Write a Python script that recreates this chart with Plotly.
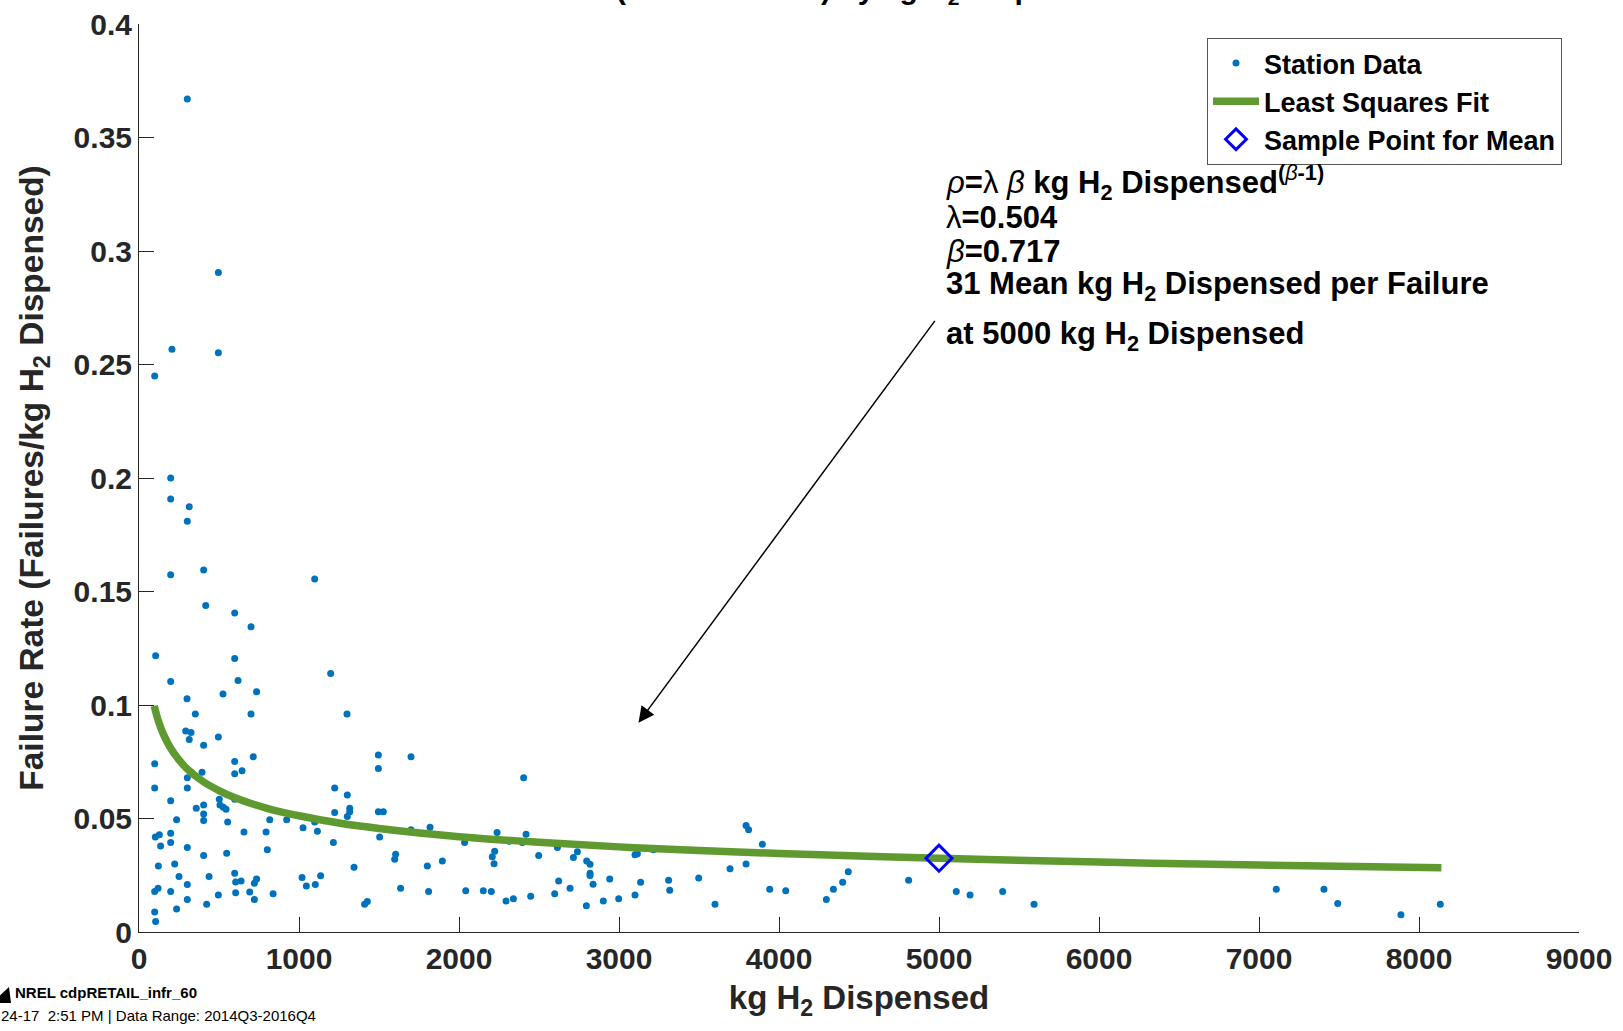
import plotly.graph_objects as go

# ---------------- data ----------------
station_kg = [
    302, 496, 206, 496, 98, 198,
    198, 314, 302, 198, 404, 1098, 417, 598, 700, 104, 598, 1198, 198, 619,
    735, 525, 300, 352, 700, 1300, 292, 325, 314, 496, 404, 98, 598, 714,
    1496, 1700, 1496, 598, 644, 394, 302, 2404, 98, 302, 1223, 1302, 198,
    502, 506, 527, 544, 358, 404, 404, 404, 598, 1317, 1317, 1223, 1302,
    1496, 1527, 235, 554, 817, 923, 1098, 1025, 1115, 656, 794, 102, 127,
    198, 135, 198, 302, 1215, 1504, 1819, 1700, 2035, 2238, 2313, 2419,
    2396, 2223, 2208, 2219, 2498, 2615, 2740, 2715, 2798, 2819, 2819, 2819,
    2838, 2942, 2998, 2902, 2796, 2623, 2694, 2598, 2448, 2340, 2294, 2202,
    2152, 2042, 1896, 1802, 1810, 1635, 1604, 1598, 1427, 1410, 1344, 1135,
    1102, 1046, 1019, 838, 735, 721, 692, 721, 802, 638, 598, 604, 604, 548,
    496, 438, 423, 404, 302, 302, 250, 223, 235, 198, 121, 98, 119, 98, 104,
    3100, 3100, 3115, 3215, 3135, 3310, 3317, 3498, 3600, 3694, 3794, 3810,
    3794, 3896, 3942, 4042, 4296, 4340, 4398, 4433, 4810, 5108, 5194, 5398,
    5594, 7108, 7406, 7492, 7887, 8133,
]
station_rate = [
    0.367, 0.2905, 0.2567, 0.2552, 0.2449, 0.200,
    0.1908, 0.1873, 0.181, 0.1574, 0.1595, 0.1555, 0.1438, 0.1405, 0.1345,
    0.1217, 0.1205, 0.1139, 0.1104, 0.1108, 0.1058, 0.1048, 0.1028, 0.096,
    0.096, 0.096, 0.0885, 0.0879, 0.0848, 0.0859, 0.0823, 0.0741, 0.0751,
    0.0772, 0.078, 0.0772, 0.072, 0.0697, 0.071, 0.0704, 0.068, 0.068,
    0.0634, 0.0634, 0.0634, 0.0603, 0.0578, 0.0585, 0.056, 0.055, 0.0541,
    0.0545, 0.0559, 0.052, 0.0491, 0.0585, 0.0545, 0.053, 0.0526, 0.0509,
    0.053, 0.053, 0.0494, 0.0485, 0.0494, 0.0494, 0.0485, 0.0459, 0.0444,
    0.0441, 0.0441, 0.0419, 0.0428, 0.0435, 0.0379, 0.0394, 0.0372, 0.0394,
    0.0419, 0.0462, 0.045, 0.0394, 0.0438, 0.040, 0.0431, 0.0394, 0.0356,
    0.0331, 0.0301, 0.0337, 0.0372, 0.0353, 0.0328, 0.0313, 0.0298, 0.0259,
    0.0249, 0.021, 0.0234, 0.0147, 0.0137, 0.0116, 0.0225, 0.0193, 0.0168,
    0.0157, 0.0147, 0.0137, 0.0178, 0.0182, 0.0182, 0.0313, 0.0291, 0.0178,
    0.0193, 0.0343, 0.032, 0.0134, 0.0122, 0.0285, 0.0248, 0.0209, 0.0203,
    0.024, 0.0168, 0.0234, 0.0215, 0.0176, 0.0143, 0.0362, 0.0225, 0.0259,
    0.022, 0.0173, 0.0347, 0.0163, 0.0244, 0.0122, 0.0337, 0.0209, 0.0143,
    0.0244, 0.030, 0.0101, 0.0178, 0.0291, 0.0178, 0.0193, 0.0088, 0.0046,
    0.0163, 0.034, 0.0345, 0.0362, 0.0219, 0.0228, 0.0184, 0.0238, 0.0122,
    0.0279, 0.0469, 0.045, 0.030, 0.0387, 0.0188, 0.0182, 0.0143, 0.0188,
    0.0219, 0.0265, 0.0228, 0.0178, 0.0163, 0.0178, 0.0122, 0.0188, 0.0188,
    0.0126, 0.0076, 0.0122,
]

fit_kg = [95, 120, 150, 200, 250, 300, 400, 500, 600, 800, 1000, 1250, 1500,
          2000, 2500, 3000, 3500, 4000, 5000, 6000, 7000, 8140]
fit_rate = [0.0996, 0.0932, 0.0875, 0.0807, 0.0758, 0.0719, 0.0663, 0.0623,
            0.0591, 0.0545, 0.0512, 0.0480, 0.0456, 0.0420, 0.0395, 0.0375,
            0.0359, 0.0346, 0.0325, 0.0308, 0.0295, 0.0283]

sample_kg = [5000]
sample_rate = [0.0325]

x_tick_vals = [0, 1000, 2000, 3000, 4000, 5000, 6000, 7000, 8000, 9000]
x_tick_text = ["0", "1000", "2000", "3000", "4000", "5000", "6000", "7000", "8000", "9000"]
y_tick_vals = [0, 0.05, 0.1, 0.15, 0.2, 0.25, 0.3, 0.35, 0.4]
y_tick_text = ["0", "0.05", "0.1", "0.15", "0.2", "0.25", "0.3", "0.35", "0.4"]

arrow_tail = (4981, 0.2699)
arrow_head = (3122, 0.0922)

# ---------------- layout helpers ----------------
W, H = 1623, 1031
ML, MR, MT, MB = 139, 44, 24, 99
PW, PH = W - ML - MR, H - MT - MB


def px(xp):
    return (xp - ML) / PW


def py(yp):
    return (H - MB - yp) / PH


FONT = "Liberation Sans, Arial, Helvetica, sans-serif"
AXC = "#262626"

fig = go.Figure()
fig.add_trace(go.Scatter(
    x=station_kg, y=station_rate, mode="markers", name="Station Data",
    marker=dict(color="#0072BD", size=7, line=dict(width=0)),
))
fig.add_trace(go.Scatter(
    x=fit_kg, y=fit_rate, mode="lines", name="Least Squares Fit",
    line=dict(color="#5E9A2F", width=7.5, shape="spline"),
))
fig.add_trace(go.Scatter(
    x=sample_kg, y=sample_rate, mode="markers", name="Sample Point for Mean",
    marker=dict(symbol="diamond-open", size=20, color="#0000FF",
                line=dict(width=3, color="#0000FF")),
))

axis_common = dict(
    ticks="inside", ticklen=15, tickwidth=1, tickcolor=AXC,
    showline=True, linecolor=AXC, linewidth=1,
    showgrid=False, zeroline=False, mirror=False,
    tickfont=dict(family=FONT, size=30, color=AXC, weight="bold"),
)

fig.update_layout(
    width=W, height=H,
    margin=dict(l=ML, r=MR, t=MT, b=MB, autoexpand=False),
    paper_bgcolor="white", plot_bgcolor="white",
    showlegend=True,
    xaxis=dict(range=[0, 9000], tickmode="array", tickvals=x_tick_vals,
               ticktext=x_tick_text,
               title=dict(text="kg H<sub>2</sub> Dispensed", standoff=11,
                          font=dict(family=FONT, size=33, color=AXC, weight="bold")),
               **axis_common),
    yaxis=dict(range=[0, 0.4], tickmode="array", tickvals=y_tick_vals,
               ticktext=y_tick_text,
               title=dict(text="Failure Rate (Failures/kg H<sub>2</sub> Dispensed)",
                          standoff=19,
                          font=dict(family=FONT, size=33.5, color=AXC, weight="bold")),
               **axis_common),
    legend=dict(
        x=px(1562), y=py(38), xanchor="right", yanchor="top",
        bgcolor="white", bordercolor="#555555", borderwidth=1,
        font=dict(family=FONT, size=27, color="#000000", weight="bold"),
        itemwidth=46, tracegroupgap=0,
    ),
)

ann_font = dict(family=FONT, size=31, color="#000000", weight="bold")
G = "<span style='font-weight:normal'><i>{}</i></span>"
text_lines = [
    (183, G.format("ρ") + "=" + "<span style='font-weight:normal'>λ</span> "
     + G.format("β") + " kg H<sub>2</sub> Dispensed<sup>(" + G.format("β") + "-1)</sup>"),
    (217, "<span style='font-weight:normal'>λ</span>=0.504"),
    (252, G.format("β") + "=0.717"),
    (286, "31 Mean kg H<sub>2</sub> Dispensed per Failure"),
    (336, "at 5000 kg H<sub>2</sub> Dispensed"),
]
for ypix, t in text_lines:
    fig.add_annotation(text=t, xref="paper", yref="paper", x=px(944), y=py(ypix),
                       xanchor="left", yanchor="middle", showarrow=False,
                       font=ann_font, align="left")

fig.add_annotation(
    x=arrow_head[0], y=arrow_head[1], ax=arrow_tail[0], ay=arrow_tail[1],
    xref="x", yref="y", axref="x", ayref="y", text="", showarrow=True,
    arrowhead=2, arrowsize=2.1, arrowwidth=1.5, arrowcolor="#000000",
)

# clipped title at the top edge
fig.add_annotation(
    text="Failure Rate (Infrastructure) by kg H<sub>2</sub> Dispensed",
    xref="paper", yref="paper", x=px(434), y=py(-9), xanchor="left",
    yanchor="middle", showarrow=False,
    font=dict(family=FONT, size=30, color="#000000", weight="bold"),
)

# footer
fig.add_annotation(
    text="NREL cdpRETAIL_infr_60", xref="paper", yref="paper",
    x=px(13), y=py(992), xanchor="left", yanchor="middle", showarrow=False,
    font=dict(family=FONT, size=15, color="#000000", weight="bold"),
)
fig.add_annotation(
    text="24-17  2:51 PM | Data Range: 2014Q3-2016Q4", xref="paper", yref="paper",
    x=px(-1), y=py(1015), xanchor="left", yanchor="middle", showarrow=False,
    font=dict(family=FONT, size=15, color="#000000"),
)
fig.add_shape(
    type="path", xref="paper", yref="paper",
    path="M {},{} L {},{} L {},{} Z".format(px(-8), py(1003), px(11), py(1003), px(9), py(987)),
    fillcolor="#000000", line=dict(width=0),
)

fig.write_html("out.html", config={"displayModeBar": False},
               post_script="document.body.style.margin='0px';")
